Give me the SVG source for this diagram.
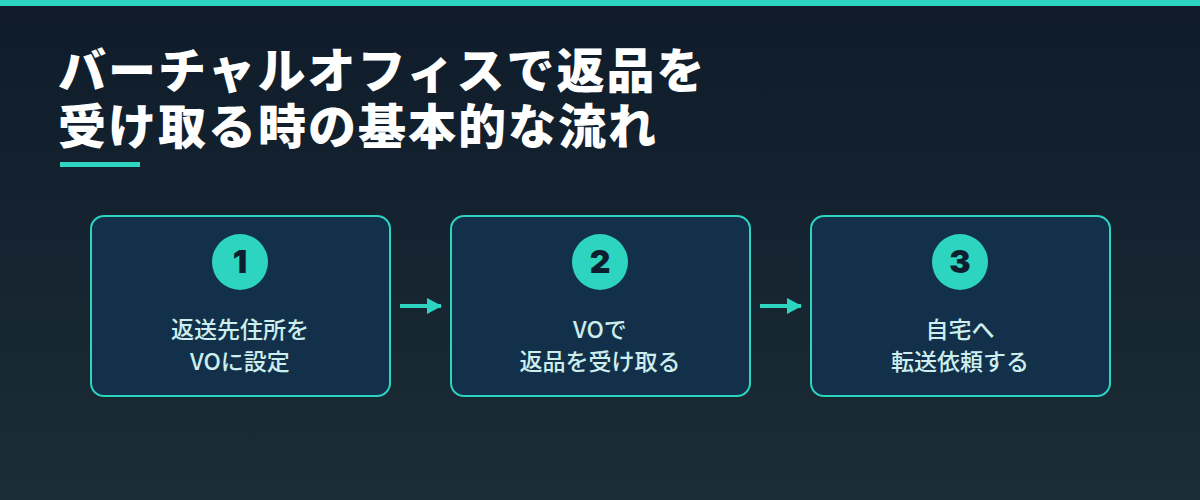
<svg xmlns="http://www.w3.org/2000/svg" width="1200" height="500" viewBox="0 0 1200 500">
<defs>
<linearGradient id="bg" x1="0" y1="0" x2="0" y2="1">
<stop offset="0" stop-color="#0f1b2a"/>
<stop offset="1" stop-color="#1b2d36"/>
</linearGradient>
<marker id="ah" markerWidth="15" markerHeight="16" refX="14" refY="8" orient="auto" markerUnits="userSpaceOnUse" viewBox="0 0 15 16">
<path d="M0,0 L15,8 L0,16 Z" fill="#2dd4bf"/>
</marker>
<style>
.title{font-family:"Noto Sans CJK JP","Noto Sans",sans-serif;font-weight:900;font-size:48px;fill:#ffffff;letter-spacing:2px}
.box{fill:#13304a;stroke:#2dd4bf;stroke-width:2}
.num{fill:#2dd4bf}
.numt{font-family:"Inter","Noto Sans",sans-serif;font-weight:900;font-size:32px;fill:#0f1e2e;text-anchor:middle}
.lbl{font-family:"Noto Sans CJK JP","Noto Sans",sans-serif;font-weight:500;font-size:23px;fill:#cdeeee;text-anchor:middle}
.conn{stroke:#2dd4bf;stroke-width:4;fill:none}
</style>
</defs>
<rect width="1200" height="500" fill="url(#bg)"/>
<rect x="0" y="0" width="1200" height="6" fill="#2dd4bf"/>
<text class="title" x="58" y="88">バーチャルオフィスで返品を</text>
<text class="title" x="58" y="144">受け取る時の基本的な流れ</text>
<rect x="60" y="162" width="80" height="5" fill="#2dd4bf"/>
<g id="node1">
<rect class="box" x="91" y="216" width="299" height="180" rx="13"/>
<circle class="num" cx="240" cy="262" r="28"/>
<text class="numt" x="240" y="273">1</text>
<text class="lbl" x="240" y="338">返送先住所を</text>
<text class="lbl" x="240" y="370">VOに設定</text>
</g>
<g id="node2">
<rect class="box" x="451" y="216" width="299" height="180" rx="13"/>
<circle class="num" cx="600" cy="262" r="28"/>
<text class="numt" x="600" y="273">2</text>
<text class="lbl" x="600" y="338">VOで</text>
<text class="lbl" x="600" y="370">返品を受け取る</text>
</g>
<g id="node3">
<rect class="box" x="811" y="216" width="299" height="180" rx="13"/>
<circle class="num" cx="960" cy="262" r="28"/>
<text class="numt" x="960" y="273">3</text>
<text class="lbl" x="960" y="338">自宅へ</text>
<text class="lbl" x="960" y="370">転送依頼する</text>
</g>
<g id="connectors">
<line class="conn" x1="400" y1="306" x2="441" y2="306" marker-end="url(#ah)"/>
<line class="conn" x1="760" y1="306" x2="801" y2="306" marker-end="url(#ah)"/>
</g>
</svg>
